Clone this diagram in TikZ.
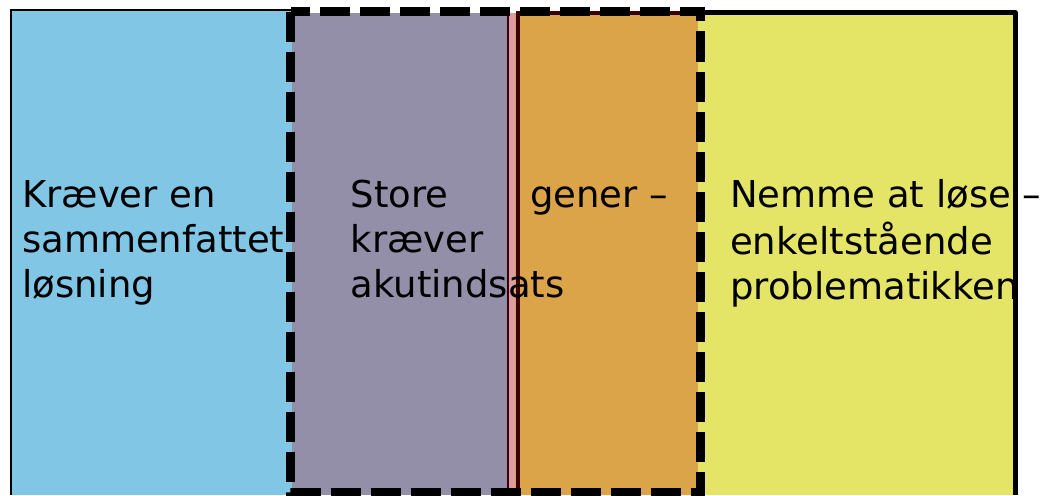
\documentclass[tikz,border=0pt]{standalone}
\usepackage{fontspec}
\setmainfont{DejaVu Sans}
\definecolor{cblue}{HTML}{82C6E6}
\definecolor{cgray}{HTML}{948FA8}
\definecolor{corange}{HTML}{DCA448}
\definecolor{cyellow}{HTML}{E4E566}
\definecolor{cpink}{HTML}{DA9DA5}
\definecolor{cdark}{HTML}{3A0000}
\begin{document}
\begin{tikzpicture}[x=1pt,y=-1pt,
  lbl/.style={anchor=north west, inner sep=0pt, align=left, font=\fontsize{37}{45}\selectfont},
  thinborder/.style={draw=black, line width=2pt},
  thickborder/.style={draw=black, line width=5pt, line join=round},
  dashbox/.style={draw=black, line width=9pt, dash pattern=on 30pt off 10pt}]
\useasboundingbox (0,0) rectangle (1043,495);
% fills
\fill[cblue] (11,10) rectangle (292,495);
\fill[cgray] (292,13) rectangle (508,495);
\fill[cpink] (508,13) rectangle (515,495);
\fill[corange] (515,13) rectangle (698,495);
\fill[cyellow] (698,12) rectangle (1015,495);
% separator lines
\draw[cdark, line width=4pt] (517.5,495) -- (517.5,13.5) -- (698,13.5);
\draw[cdark, line width=1.2pt] (508,13) -- (508,495);
% texts
\node[lbl] (t1) at (22,175.5) {\strut Kræver en\\sammenfattet\\løsning};
\node[lbl] (t2) at (350.5,175.5) {\strut Store\\kræver\\akutindsats};
\node[lbl] (t3) at (530,175.5) {\strut gener –};
\node[lbl] (t4) at (730,175.5) {\strut Nemme at løse –\\enkeltstående\\problematikken};
% borders
\draw[thinborder] (11,495) -- (11,10) -- (292,10);
\draw[thickborder] (700,12.5) -- (1015,12.5) -- (1015,495);
\draw[dashbox] (290.5,12) rectangle (700,492);
\end{tikzpicture}
\end{document}
